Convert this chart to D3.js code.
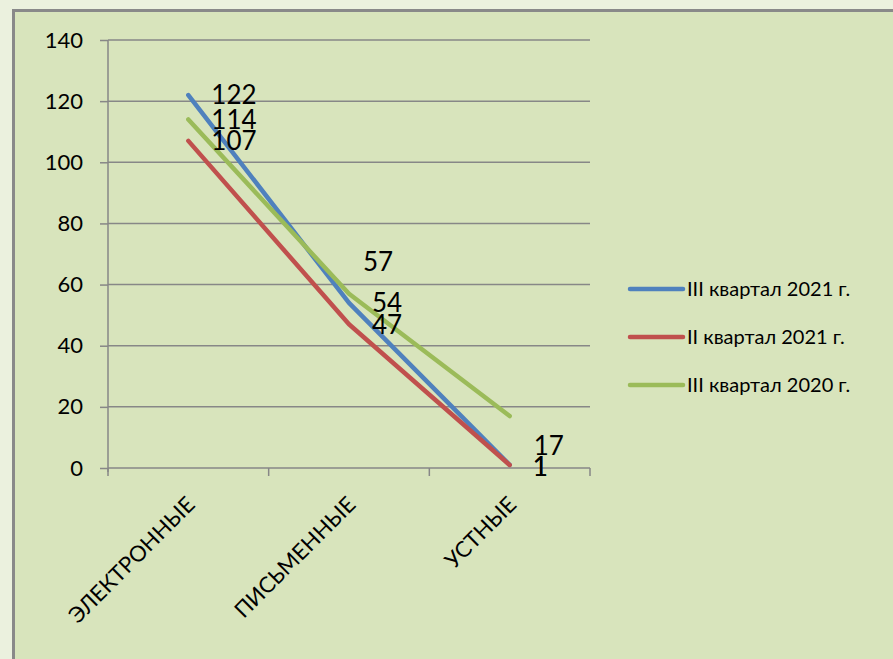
<!DOCTYPE html>
<html>
<head>
<meta charset="utf-8">
<script src="https://d3js.org/d3.v7.min.js"></script>
<style>
  body { margin: 0; background: #ebf1de; }
  svg text { font-family: Lato, "Open Sans", sans-serif; fill: #000; }
</style>
</head>
<body>
<div id="chart"></div>
<script>
// data
const categories = ["ЭЛЕКТРОННЫЕ", "ПИСЬМЕННЫЕ", "УСТНЫЕ"];
const seriesNames = ["III квартал 2021 г.", "II квартал 2021 г.", "III квартал 2020 г."];
const q3_2021 = [122, 54, 1];
const q2_2021 = [107, 47, 1];
const q3_2020 = [114, 57, 17];
const yTicks = [0, 20, 40, 60, 80, 100, 120, 140];

const colors = ["#4f81bd", "#c0504d", "#9bbb59"];
// label nudges (px) for labels that were moved by hand in the original
const labelDy = [[0, 0, 2], [0, 0, 2], [0, -32, 30]];
const labelDx = [[23, 23, 23], [23, 23, 23], [23, 14, 24]];

const series = seriesNames.map((name, i) => ({
  name: name,
  values: [q3_2021, q2_2021, q3_2020][i],
  color: colors[i]
}));

const W = 893, H = 659;
const svg = d3.select("#chart").append("svg")
  .attr("width", W).attr("height", H);

// chart frame
svg.append("rect")
  .attr("x", 13.5).attr("y", 10.5)
  .attr("width", W + 10).attr("height", H + 10)
  .attr("fill", "#d8e4bc")
  .attr("stroke", "#898989")
  .attr("stroke-width", 3);

const x0 = 108, x1 = 590, yTop = 40, yBot = 468;

const x = d3.scaleBand().domain(categories).range([x0, x1]);
const y = d3.scaleLinear().domain([0, 140]).range([yBot, yTop]);

// gridlines + y axis
const yAxis = svg.append("g")
  .attr("transform", "translate(" + x0 + ",0)")
  .call(d3.axisLeft(y).tickValues(yTicks).tickSize(8).tickPadding(17));
yAxis.select(".domain").remove();
yAxis.selectAll(".tick line").attr("stroke", "#878787").attr("stroke-width", 1.5);
yAxis.selectAll(".tick text").attr("font-size", 22).attr("font-family", "Lato");

svg.append("g").selectAll("line")
  .data(yTicks.filter(d => d > 0))
  .join("line")
  .attr("x1", x0).attr("x2", x1)
  .attr("y1", d => y(d)).attr("y2", d => y(d))
  .attr("stroke", "#878787").attr("stroke-width", 1.5);

svg.append("line")
  .attr("x1", x0).attr("x2", x0).attr("y1", yTop).attr("y2", yBot + 4)
  .attr("stroke", "#878787").attr("stroke-width", 1.5);

// x axis
svg.append("line")
  .attr("x1", x0).attr("x2", x1).attr("y1", yBot).attr("y2", yBot)
  .attr("stroke", "#878787").attr("stroke-width", 1.5);
const edges = categories.map(c => x(c)).concat([x1]);
svg.append("g").selectAll("line")
  .data(edges)
  .join("line")
  .attr("x1", d => d).attr("x2", d => d)
  .attr("y1", yBot).attr("y2", yBot + 8)
  .attr("stroke", "#878787").attr("stroke-width", 1.5);

const cx = c => x(c) + x.bandwidth() / 2;

svg.append("g").selectAll("text")
  .data(categories)
  .join("text")
  .attr("transform", d => "translate(" + (cx(d) + 8) + "," + (yBot + 38) + ") rotate(-45)")
  .attr("text-anchor", "end")
  .attr("font-size", 22)
  .text(d => d);

// lines
const line = d3.line()
  .x((d, i) => cx(categories[i]))
  .y(d => y(d));

svg.append("g").selectAll("path")
  .data(series)
  .join("path")
  .attr("d", d => line(d.values))
  .attr("fill", "none")
  .attr("stroke", d => d.color)
  .attr("stroke-width", 4.5)
  .attr("stroke-linecap", "round")
  .attr("stroke-linejoin", "round");

// data labels
series.forEach((s, si) => {
  svg.append("g").selectAll("text")
    .data(s.values)
    .join("text")
    .attr("x", (d, i) => cx(categories[i]) + labelDx[si][i])
    .attr("y", (d, i) => y(d) + labelDy[si][i])
    .attr("dy", "0.36em")
    .attr("font-size", 26)
    .text(d => d);
});

// legend
const legend = svg.append("g").selectAll("g")
  .data(series)
  .join("g")
  .attr("transform", (d, i) => "translate(630," + (289 + i * 48) + ")");
legend.append("line")
  .attr("x1", 0).attr("x2", 53).attr("y1", 0).attr("y2", 0)
  .attr("stroke", d => d.color)
  .attr("stroke-width", 4.5)
  .attr("stroke-linecap", "round");
legend.append("text")
  .attr("x", 57).attr("dy", "0.36em")
  .attr("font-size", 20)
  .text(d => d.name);
</script>
</body>
</html>
